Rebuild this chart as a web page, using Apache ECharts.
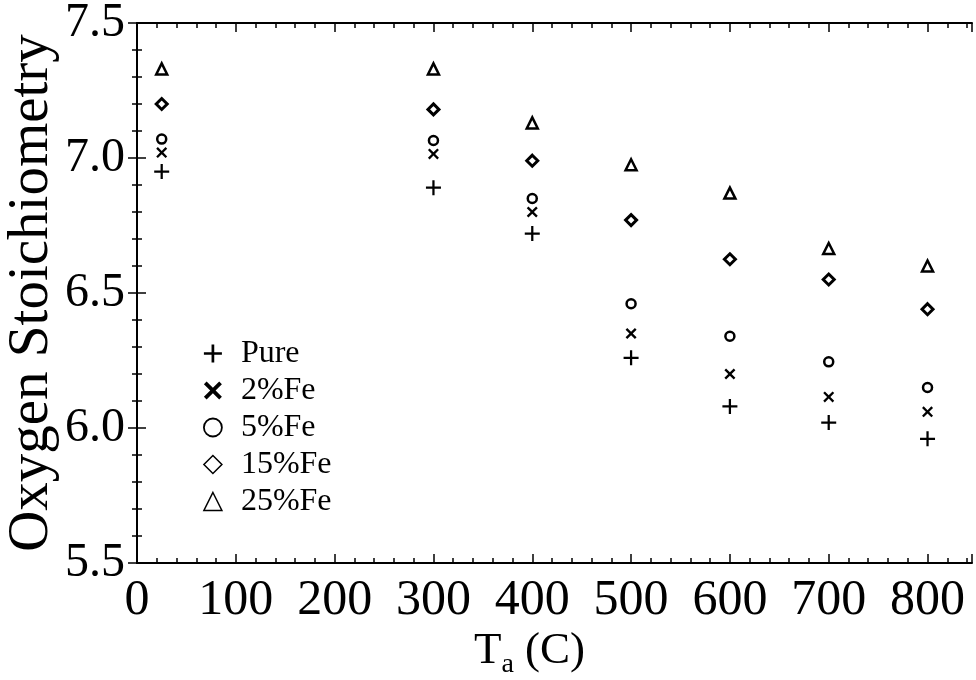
<!DOCTYPE html>
<html>
<head>
<meta charset="utf-8">
<script src="https://cdn.jsdelivr.net/npm/echarts@6/dist/echarts.min.js"></script>
<style>
  html, body { margin: 0; padding: 0; background: #fff; }
  #chart { width: 976px; height: 680px; }
</style>
</head>
<body>
<div id="chart"></div>
<script>
// annealing temperature (C)
const temps = [25, 300, 400, 500, 600, 700, 800];
// oxygen stoichiometry per composition
const pure = [6.95, 6.89, 6.72, 6.26, 6.08, 6.02, 5.96];
const fe2 = [7.02, 7.015, 6.80, 6.35, 6.20, 6.115, 6.06];
const fe5 = [7.07, 7.065, 6.85, 6.46, 6.34, 6.245, 6.15];
const fe15 = [7.20, 7.18, 6.99, 6.77, 6.625, 6.55, 6.44];
const fe25 = [7.33, 7.33, 7.13, 6.975, 6.87, 6.665, 6.60];
const seriesNames = ['Pure', '2%Fe', '5%Fe', '15%Fe', '25%Fe'];
const xTicks = [0, 100, 200, 300, 400, 500, 600, 700, 800];

const FONT = 'Liberation Serif';
const PLUS = 'path://M8.5,0 H11.5 V8.5 H20 V11.5 H11.5 V20 H8.5 V11.5 H0 V8.5 H8.5 Z';
const CROSS = 'path://M0,3 L3,0 L10,7 L17,0 L20,3 L13,10 L20,17 L17,20 L10,13 L3,20 L0,17 L7,10 Z';

const pts = (ys) => temps.map((t, i) => [t, ys[i]]);

const chart = echarts.init(document.getElementById('chart'), null, { renderer: 'canvas' });

const tickStyle = { color: '#000', width: 1.5 };
const lineStyle = { color: '#000', width: 2 };

chart.setOption({
  backgroundColor: '#fff',
  animation: false,
  grid: { left: 137, right: 4, top: 23, bottom: 117, outerBoundsMode: 'none' },
  legend: {
    orient: 'vertical',
    left: 198, top: 330,
    itemWidth: 18, itemHeight: 18,
    itemGap: 0,
    textStyle: { fontFamily: FONT, fontSize: 32, color: '#000', lineHeight: 37, padding: [0, 0, 0, 14] },
    data: [
      { name: 'Pure', icon: PLUS },
      { name: '2%Fe', icon: CROSS, itemStyle: { color: '#000' } },
      { name: '5%Fe', itemStyle: { borderWidth: 1.8 } },
      { name: '15%Fe', itemStyle: { borderWidth: 1.5 } },
      { name: '25%Fe', itemStyle: { borderWidth: 1.5 } }
    ]
  },
  xAxis: [{
    type: 'value', min: 0, max: 845, interval: 100,
    name: '{a|T}{b|a}{a| (C)}',
    nameLocation: 'middle', nameGap: 66, nameMoveOverlap: false,
    nameTextStyle: {
      padding: [0, 50, 0, 0],
      rich: {
        a: { fontFamily: FONT, fontSize: 45, color: '#000', lineHeight: 50, verticalAlign: 'top' },
        b: { fontFamily: FONT, fontSize: 28, color: '#000', lineHeight: 28, padding: [30, 0, 0, 0], verticalAlign: 'bottom' }
      }
    },
    axisLine: { lineStyle },
    axisTick: { inside: true, length: 9, lineStyle: tickStyle },
    minorTick: { show: true, splitNumber: 5, length: 5, lineStyle: tickStyle },
    splitLine: { show: false },
    axisLabel: {
      fontFamily: FONT, fontSize: 50, color: '#000', margin: 13, showMaxLabel: false,
      formatter: (v) => (xTicks.indexOf(v) >= 0 ? String(v) : '')
    }
  }, {
    type: 'value', position: 'top', min: 0, max: 845, interval: 100,
    axisLine: { lineStyle },
    axisTick: { inside: true, length: 9, lineStyle: tickStyle },
    minorTick: { show: true, splitNumber: 5, length: 5, lineStyle: tickStyle },
    splitLine: { show: false },
    axisLabel: { show: false }
  }],
  yAxis: [{
    type: 'value', min: 5.5, max: 7.5, interval: 0.5,
    name: 'Oxygen Stoichiometry',
    nameLocation: 'middle', nameGap: 76, nameMoveOverlap: false,
    nameTextStyle: { fontFamily: FONT, fontSize: 57, color: '#000' },
    axisLine: { lineStyle },
    axisTick: { inside: true, length: 9, lineStyle: tickStyle },
    minorTick: { show: true, splitNumber: 5, length: 5, lineStyle: tickStyle },
    splitLine: { show: false },
    axisLabel: { fontFamily: FONT, fontSize: 48, color: '#000', margin: 12, formatter: (v) => v.toFixed(1) }
  }, {
    type: 'value', position: 'right', min: 5.5, max: 7.5, interval: 0.5,
    axisLine: { lineStyle },
    axisTick: { inside: true, length: 9, lineStyle: tickStyle },
    minorTick: { show: true, splitNumber: 5, length: 5, lineStyle: tickStyle },
    splitLine: { show: false },
    axisLabel: { show: false }
  }],
  series: [
    { name: seriesNames[0], type: 'scatter', data: pts(pure), symbol: PLUS, symbolSize: 15,
      itemStyle: { color: '#000', opacity: 1 } },
    { name: seriesNames[1], type: 'scatter', data: pts(fe2), symbol: CROSS, symbolSize: 11,
      itemStyle: { color: '#000', opacity: 1 } },
    { name: seriesNames[2], type: 'scatter', data: pts(fe5), symbol: 'circle', symbolSize: 9,
      itemStyle: { color: '#fff', borderColor: '#000', borderWidth: 2.5, opacity: 1 } },
    { name: seriesNames[3], type: 'scatter', data: pts(fe15), symbol: 'diamond', symbolSize: 11,
      itemStyle: { color: '#fff', borderColor: '#000', borderWidth: 3, opacity: 1 } },
    { name: seriesNames[4], type: 'scatter', data: pts(fe25), symbol: 'triangle', symbolSize: 11,
      itemStyle: { color: '#fff', borderColor: '#000', borderWidth: 2.5, opacity: 1 } }
  ]
});
</script>
</body>
</html>
